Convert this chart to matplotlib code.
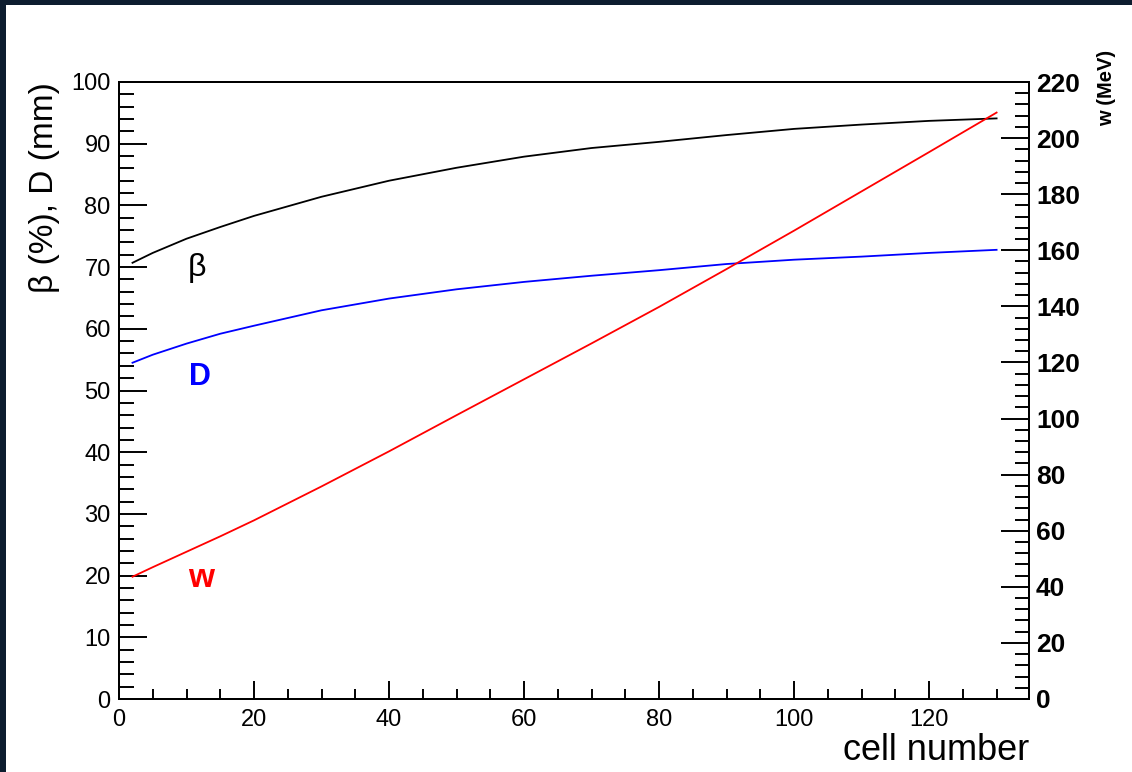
import numpy as np
import matplotlib
matplotlib.use('Agg')
import matplotlib.pyplot as plt
from matplotlib.ticker import MultipleLocator
from matplotlib.patches import Rectangle

plt.rcParams['font.family'] = ['Liberation Sans', 'DejaVu Sans']

# values
cell = [2, 5, 10, 15, 20, 30, 40, 50, 60, 70, 80, 90, 100, 110, 120, 130]
beta = [70.7, 72.3, 74.6, 76.5, 78.3, 81.4, 84.0, 86.1, 87.9, 89.3, 90.3, 91.4, 92.4, 93.1, 93.7, 94.1]
aperture = [54.5, 55.8, 57.6, 59.2, 60.5, 63.0, 64.9, 66.4, 67.6, 68.6, 69.5, 70.5, 71.2, 71.7, 72.3, 72.8]
energy = [43.6, 47.0, 52.5, 58.0, 63.7, 75.8, 88.3, 101.2, 114.0, 126.8, 139.8, 153.3, 167.0, 181.0, 195.0, 209.1]

W, H = 1132, 772
fig = plt.figure(figsize=(W / 100, H / 100), dpi=100)
fig.patch.set_facecolor('white')
# dark slide border (left and top strips)
dark = '#0d1d2f'
fig.patches.append(Rectangle((0, 0), 6 / W, 1, transform=fig.transFigure,
                             facecolor=dark, edgecolor='none', zorder=-1))
fig.patches.append(Rectangle((0, 1 - 5 / H), 1, 5 / H, transform=fig.transFigure,
                             facecolor=dark, edgecolor='none', zorder=-1))

ax = fig.add_axes([119 / W, 73 / H, 910 / W, 617 / H])
ax.set_facecolor('none')
ax.plot(cell, beta, color='black', lw=1.3)
ax.plot(cell, aperture, color='#0000ff', lw=1.3)
ax.set_xlim(0, 134.8)
ax.set_ylim(0, 100)

ax2 = ax.twinx()
ax2.plot(cell, energy, color='#ff0000', lw=1.3)
ax2.set_ylim(0, 220)

for a in (ax, ax2):
    for s in a.spines.values():
        s.set_linewidth(1.4)

ax.xaxis.set_major_locator(MultipleLocator(20))
ax.xaxis.set_minor_locator(MultipleLocator(5))
ax.yaxis.set_major_locator(MultipleLocator(10))
ax.yaxis.set_minor_locator(MultipleLocator(2))
ax2.yaxis.set_major_locator(MultipleLocator(20))
ax2.yaxis.set_minor_locator(MultipleLocator(4))

ax.tick_params(axis='x', which='both', direction='in', top=False, width=1.4, labelsize=17, pad=7)
ax.tick_params(axis='x', which='major', length=13)
ax.tick_params(axis='x', which='minor', length=7)
ax.tick_params(axis='y', which='both', direction='in', right=False, width=1.4, labelsize=17, pad=6)
ax.tick_params(axis='y', which='major', length=20)
ax.tick_params(axis='y', which='minor', length=11)
ax2.tick_params(axis='y', which='both', direction='in', width=1.4, labelsize=19, pad=5)
ax2.tick_params(axis='y', which='major', length=20)
ax2.tick_params(axis='y', which='minor', length=10)
for lab in ax2.get_yticklabels():
    lab.set_fontweight('bold')

ax.set_xlabel('cell number', fontsize=26, loc='right', labelpad=2)
ax.set_ylabel('β (%), D (mm)', fontsize=24, loc='top', labelpad=8)
fig.text(1107 / W, 1 - 88 / H, 'w (MeV)', rotation=90, fontsize=14.5, fontweight='bold',
         ha='center', va='center')

ax.text(11.6, 69.9, 'β', fontsize=23, color='black', ha='center', va='center')
ax.text(12.0, 52.2, 'D', fontsize=22, color='#0000ff', fontweight='bold', ha='center', va='center')
ax.text(12.2, 19.6, 'w', fontsize=24, color='#ff0000', fontweight='bold', ha='center', va='center')

fig.savefig('out.png', dpi=100, facecolor=fig.get_facecolor())
